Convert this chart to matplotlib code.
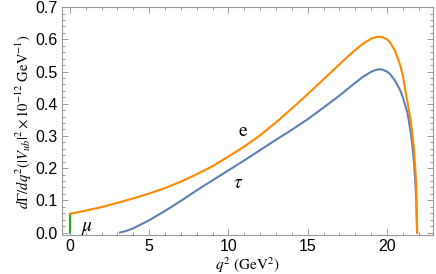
import matplotlib
matplotlib.use("Agg")
import matplotlib.pyplot as plt
from matplotlib.ticker import MultipleLocator, FormatStrFormatter

# q^2 (GeV^2) and dGamma/dq^2
q2_e = [0, 1, 2, 3, 4, 5, 6, 7, 8, 9, 10, 11, 12, 13, 14, 15, 16, 17, 17.5,
        18, 18.5, 19, 19.3, 19.5, 19.7, 20, 20.2, 20.5, 20.85, 21.0, 21.2,
        21.4, 21.5, 21.6, 21.7, 21.8, 21.85, 21.9]
rate_e = [0.058, 0.068, 0.079, 0.092, 0.106, 0.121, 0.138, 0.158, 0.181, 0.206,
          0.236, 0.267, 0.302, 0.342, 0.385, 0.430, 0.476, 0.522, 0.545,
          0.567, 0.587, 0.602, 0.607, 0.608, 0.607, 0.600, 0.590, 0.565,
          0.517, 0.487, 0.43, 0.375, 0.345, 0.305, 0.26, 0.19, 0.14, 0.0]

q2_tau = [3.16, 3.5, 4, 5, 6, 7, 8, 9, 10, 11, 12, 13, 14, 15, 16, 17, 17.5,
          18, 18.5, 19, 19.3, 19.5, 19.7, 20, 20.2, 20.5, 20.85, 21.0, 21.3,
          21.5, 21.6, 21.7, 21.8, 21.85, 21.9]
rate_tau = [0.0, 0.004, 0.013, 0.038, 0.067, 0.098, 0.131, 0.162, 0.193, 0.224,
            0.256, 0.288, 0.319, 0.352, 0.388, 0.425, 0.445, 0.465, 0.484,
            0.499, 0.505, 0.507, 0.506, 0.500, 0.492, 0.472, 0.44, 0.42,
            0.37, 0.31, 0.27, 0.22, 0.15, 0.10, 0.0]

q2_mu = [0.0112, 0.0115, 0.013, 0.02, 0.05, 0.1]
rate_mu = [0.0, 0.03, 0.045, 0.055, 0.0585, 0.059]

plt.rcParams['font.family'] = ['Liberation Sans', 'DejaVu Sans']
plt.rcParams['mathtext.fontset'] = 'stix'

fig = plt.figure(figsize=(4.36, 2.74), dpi=100)
ax = fig.add_axes([0.142, 0.142, 0.851, 0.832])

ax.plot(q2_mu, rate_mu, color='#22aa22', lw=1.5)
ax.plot(q2_tau, rate_tau, color='#5e81b5', lw=1.5)
ax.plot(q2_e, rate_e, color='#ff8800', lw=1.5)

ax.text(10.9, 0.315, r'$\mathrm{e}$', fontsize=14, ha='center', va='center')
ax.text(10.6, 0.152, r'$\tau$', fontsize=14, ha='center', va='center')
ax.text(1.1, 0.012, r'$\mu$', fontsize=14, ha='center', va='center')

ax.set_xlim(-0.5, 22.9)
ax.set_ylim(-0.008, 0.7)
ax.xaxis.set_major_locator(MultipleLocator(5))
ax.xaxis.set_minor_locator(MultipleLocator(1))
ax.yaxis.set_major_locator(MultipleLocator(0.1))
ax.yaxis.set_minor_locator(MultipleLocator(0.02))
ax.yaxis.set_major_formatter(FormatStrFormatter('%.1f'))

ax.tick_params(which='both', direction='in', top=True, right=True,
               color='#999999', labelsize=11.5, width=0.7)
ax.tick_params(which='major', length=4, pad=3)
ax.tick_params(which='minor', length=2)
for s in ax.spines.values():
    s.set_color('#999999')
    s.set_linewidth(0.8)

ax.set_xlabel(r'$q^2\ (\mathrm{GeV}^2)$', fontsize=11, labelpad=1)
ax.set_ylabel(r'$d\Gamma/dq^2(|V_{ub}|^2\times 10^{-12}\ \mathrm{GeV}^{-1})$',
              fontsize=10.5, labelpad=1)

fig.savefig('out.png', dpi=100)
